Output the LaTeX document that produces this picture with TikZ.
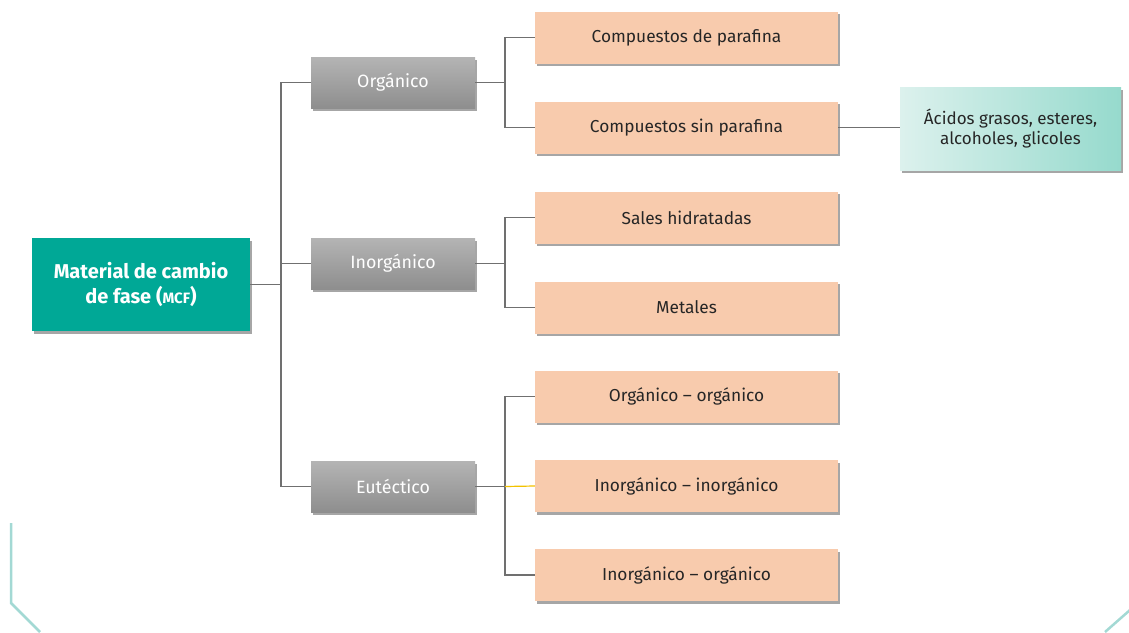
\documentclass[tikz,border=0pt]{standalone}
\usepackage{fontspec}
\setmainfont{Fira Sans}
\usetikzlibrary{shadows}
\definecolor{mcfteal}{HTML}{00A896}
\definecolor{peach}{HTML}{F8CBAD}
\definecolor{greytop}{HTML}{B4B4B4}
\definecolor{greybot}{HTML}{8E8E8E}
\definecolor{lighttealL}{HTML}{DCF1ED}
\definecolor{lighttealR}{HTML}{96DACD}
\definecolor{conn}{HTML}{707070}
\definecolor{deco}{HTML}{A3D9D4}
\definecolor{yel}{HTML}{F2C200}
\tikzset{
  x=1pt, y=-1pt,
  shad/.style={drop shadow={shadow xshift=1.5pt, shadow yshift=-2.5pt, opacity=0.35, fill=black}},
  rootbox/.style={shad, fill=mcfteal, minimum width=218pt, minimum height=93pt, text=white, align=center, font=\fontsize{20}{25}\selectfont\bfseries},
  greybox/.style={shad, top color=greytop, bottom color=greybot, draw=none, minimum width=164pt, minimum height=51pt, text=white, font=\fontsize{17.8}{21}\selectfont},
  peachbox/.style={shad, fill=peach, minimum width=303pt, minimum height=52pt, text=black!85, font=\fontsize{17.3}{21}\selectfont},
  leafbox/.style={shad, left color=lighttealL, right color=lighttealR, draw=none, minimum width=221pt, minimum height=83pt, text=black!85, align=center, font=\fontsize{17}{20}\selectfont},
  link/.style={draw=conn, line width=1.2pt},
  decoline/.style={draw=deco, line width=2.5pt}
}
\begin{document}
\begin{tikzpicture}
\useasboundingbox (0,0) rectangle (1129,632);
% decorations
\draw[decoline] (11,523) -- (11,603) -- (40,632);
\draw[decoline] (1130,610) -- (1105,632);
% nodes
\node[rootbox] (mcf) at (141,284.5) {Material de cambio\\de fase ({\fontsize{15}{18}\selectfont MCF})};
\node[greybox] (org) at (393,82.5) {Orgánico};
\node[greybox] (inorg) at (393,263.5) {Inorgánico};
\node[greybox] (eut) at (393,486.5) {Eutéctico};
\node[peachbox] (p1) at (686.5,37.5) {Compuestos de parafina};
\node[peachbox] (p2) at (686.5,127.5) {Compuestos sin parafina};
\node[peachbox] (p3) at (686.5,217.5) {Sales hidratadas};
\node[peachbox] (p4) at (686.5,307.5) {Metales};
\node[peachbox] (p5) at (686.5,396.5) {Orgánico – orgánico};
\node[peachbox] (p6) at (686.5,486) {Inorgánico – inorgánico};
\node[peachbox] (p7) at (686.5,575) {Inorgánico – orgánico};
\node[leafbox] (leaf) at (1010.5,128.5) {Ácidos grasos, esteres,\\alcoholes, glicoles};
% junction coordinates
\coordinate (t0) at (281,284.5);
\coordinate (j1) at (505,82.5);
\coordinate (j2) at (505,263.5);
\coordinate (j3) at (505,486.5);
% connectors
\path[link] (mcf.east) -- (t0);
\path[link] (org.west) -| (t0);
\path[link] (eut.west) -| (t0);
\path[link] (inorg.west) -- (inorg.west -| t0);
\path[link] (org.east) -- (j1);
\path[link] (p1.west) -| (j1);
\path[link] (p2.west) -| (j1);
\path[link] (inorg.east) -- (j2);
\path[link] (p3.west) -| (j2);
\path[link] (p4.west) -| (j2);
\path[link] (eut.east) -- (j3);
\path[link] (p5.west) -| (j3);
\path[link] (p7.west) -| (j3);
\path[draw=yel, line width=1.2pt] (j3) -- (p6.west);
\path[link] (p2.east) -- (p2.east -| leaf.west);
\end{tikzpicture}
\end{document}
